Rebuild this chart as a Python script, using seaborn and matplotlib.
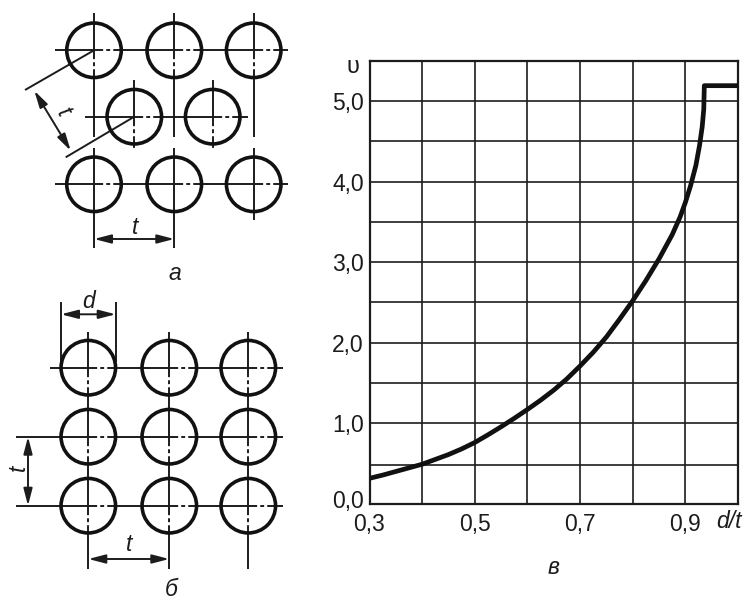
import matplotlib
matplotlib.use('Agg')
import matplotlib.pyplot as plt
from matplotlib.transforms import ScaledTranslation
import pandas as pd
import seaborn as sns

# curve
d_t = [0.30, 0.325, 0.35, 0.375, 0.40, 0.425, 0.45, 0.475, 0.50, 0.525, 0.55, 0.575, 0.60, 0.625, 0.65, 0.675,
       0.70, 0.725, 0.75, 0.775, 0.80, 0.825, 0.85, 0.875, 0.89, 0.90, 0.91, 0.92, 0.927, 0.932, 0.935, 0.936, 1.00]
upsilon = [0.315, 0.355, 0.40, 0.445, 0.49, 0.55, 0.61, 0.68, 0.76, 0.855, 0.955, 1.06, 1.17, 1.285, 1.41, 1.55,
           1.71, 1.88, 2.07, 2.29, 2.52, 2.77, 3.04, 3.34, 3.56, 3.74, 3.95, 4.2, 4.45, 4.68, 4.9, 5.19, 5.19]

x_grid = [0.3, 0.4, 0.5, 0.6, 0.7, 0.8, 0.9, 1.0]
x_labels = ['0,3', '', '0,5', '', '0,7', '', '0,9', '']
y_grid = [0.0, 0.48, 1.0, 1.5, 2.0, 2.5, 3.0, 3.5, 4.0, 4.5, 5.0, 5.5]
y_labels = ['0,0', '', '1,0', '', '2,0', '', '3,0', '', '4,0', '', '5,0', '']

# schemes, positions in picture pixels
holes_x = [94, 174.3, 253.7, 134.3, 212.7, 94, 174.3, 253.7,
           88.3, 169.3, 248.3, 88.3, 169.3, 248.3, 88.3, 169.3, 248.3]
holes_y = [50.3, 50.3, 50.3, 116.7, 116.7, 184.3, 184.3, 184.3,
           367.7, 367.7, 367.7, 436.7, 436.7, 436.7, 505.7, 505.7, 505.7]

solid_lines = [
    # a, horizontal
    (55, 50.3, 94, 50.3), (122, 50.3, 174.3, 50.3), (202, 50.3, 253.7, 50.3), (281, 50.3, 288, 50.3),
    (85, 116.7, 134.3, 116.7), (162, 116.7, 212.7, 116.7), (240, 116.7, 248, 116.7),
    (55, 184.3, 94, 184.3), (122, 184.3, 174.3, 184.3), (202, 184.3, 253.7, 184.3), (281, 184.3, 288, 184.3),
    # a, vertical
    (94, 13.3, 94, 50.3), (94, 79, 94, 137), (174.3, 13.3, 174.3, 50.3), (174.3, 79, 174.3, 137),
    (253.7, 13.3, 253.7, 50.3), (253.7, 79, 253.7, 137),
    (94, 148, 94, 248), (174.3, 148, 174.3, 248), (253.7, 148, 253.7, 220),
    (134.3, 80, 134.3, 116.7), (212.7, 80, 212.7, 116.7),
    # a, dimension lines
    (25, 90, 94, 50.3), (65.7, 157.3, 134.3, 116.7),
    # b, horizontal
    (50, 367.7, 88.3, 367.7), (116, 367.7, 169.3, 367.7), (197, 367.7, 248.3, 367.7), (276, 367.7, 283.3, 367.7),
    (15.7, 436.7, 88.3, 436.7), (116, 436.7, 169.3, 436.7), (197, 436.7, 248.3, 436.7), (276, 436.7, 283.3, 436.7),
    (15.7, 505.7, 88.3, 505.7), (116, 505.7, 169.3, 505.7), (197, 505.7, 248.3, 505.7), (276, 505.7, 283.3, 505.7),
    # b, vertical
    (88.3, 331.7, 88.3, 367.7), (88.3, 395, 88.3, 436.7), (88.3, 464, 88.3, 505.7), (88.3, 533, 88.3, 569),
    (169.3, 331.7, 169.3, 367.7), (169.3, 395, 169.3, 436.7), (169.3, 464, 169.3, 505.7), (169.3, 533, 169.3, 569),
    (248.3, 331.7, 248.3, 367.7), (248.3, 395, 248.3, 436.7), (248.3, 464, 248.3, 505.7), (248.3, 533, 248.3, 569),
    # b, dimension lines
    (61, 302.3, 61, 362), (115.7, 302.3, 115.7, 362),
]
dashed_lines = [
    (94, 50.3, 122, 50.3), (174.3, 50.3, 202, 50.3), (253.7, 50.3, 281, 50.3),
    (134.3, 116.7, 162, 116.7), (212.7, 116.7, 240, 116.7),
    (94, 184.3, 122, 184.3), (174.3, 184.3, 202, 184.3), (253.7, 184.3, 281, 184.3),
    (94, 50.3, 94, 79), (174.3, 50.3, 174.3, 79), (253.7, 50.3, 253.7, 79),
    (134.3, 116.7, 134.3, 150), (212.7, 116.7, 212.7, 150),
    (88.3, 367.7, 116, 367.7), (169.3, 367.7, 197, 367.7), (248.3, 367.7, 276, 367.7),
    (88.3, 436.7, 116, 436.7), (169.3, 436.7, 197, 436.7), (248.3, 436.7, 276, 436.7),
    (88.3, 505.7, 116, 505.7), (169.3, 505.7, 197, 505.7), (248.3, 505.7, 276, 505.7),
    (88.3, 367.7, 88.3, 395), (169.3, 367.7, 169.3, 395), (248.3, 367.7, 248.3, 395),
    (88.3, 436.7, 88.3, 464), (169.3, 436.7, 169.3, 464), (248.3, 436.7, 248.3, 464),
    (88.3, 505.7, 88.3, 533), (169.3, 505.7, 169.3, 533), (248.3, 505.7, 248.3, 533),
]
arrows = [
    (34.3, 90.7, 70.7, 150.7), (94, 239, 174.3, 239),
    (61, 314.3, 115.7, 314.3), (28, 436.7, 28, 505.7), (88.3, 559, 169.3, 559),
]
labels = [
    ('t', 63.3, 113, -60), ('t', 135, 227, 0), ('а', 175, 273, 0),
    ('d', 88.3, 301.7, 0), ('t', 18.3, 467.7, 90), ('t', 129.3, 544.3, 0), ('б', 171.7, 590, 0),
    ('d/t', 729, 521, 0), ('в', 554, 567, 0),
]

sns.set_theme(style='white')
plt.rcParams['font.family'] = ['Liberation Sans', 'DejaVu Sans']
INK = '#1c1c1c'

fig = plt.figure(figsize=(7.46, 6.01), dpi=100)

# graph on the right
ax = fig.add_axes([369.5 / 746, 1 - 503.7 / 601, 368.5 / 746, 443 / 601])
df = pd.DataFrame({'d_t': d_t, 'upsilon': upsilon})
sns.lineplot(data=df, x='d_t', y='upsilon', color='#111111', linewidth=3.4, sort=False, ax=ax, zorder=5)
ax.set_xlim(0.3, 1.0)
ax.set_ylim(0, 5.5)
ax.set_xticks(x_grid)
ax.set_xticklabels(x_labels)
ax.set_yticks(y_grid)
ax.set_yticklabels(y_labels)
ax.set_xlabel('')
ax.set_ylabel('')
ax.grid(True, color=INK, linewidth=1.2)
ax.tick_params(axis='both', labelsize=16.5, labelcolor=INK, length=0)
ax.tick_params(axis='x', pad=7)
ax.tick_params(axis='y', pad=4)
for spine in ax.spines.values():
    spine.set_color(INK)
    spine.set_linewidth(1.6)

# the 0,0 label sits a little higher than its line
zero_label = ax.get_yticklabels()[0]
zero_label.set_transform(zero_label.get_transform() + ScaledTranslation(0, 5 / 100, fig.dpi_scale_trans))

# overlay in pixel coordinates for the schemes and free labels
ov = fig.add_axes([0, 0, 1, 1], zorder=10)
ov.set_xlim(0, 746)
ov.set_ylim(601, 0)
ov.axis('off')
ov.patch.set_alpha(0)

for x0, y0, x1, y1 in solid_lines:
    ov.plot([x0, x1], [y0, y1], color=INK, linewidth=1.4, solid_capstyle='butt')
for x0, y0, x1, y1 in dashed_lines:
    ov.plot([x0, x1], [y0, y1], color=INK, linewidth=1.4, linestyle=(0, (4.7, 1.6, 2.0, 1.6, 6)))

sns.scatterplot(x=holes_x, y=holes_y, s=1540, facecolor='none', edgecolor='#111111',
                linewidth=2.6, ax=ov, zorder=4, legend=False)

for x0, y0, x1, y1 in arrows:
    ov.annotate('', xy=(x1, y1), xytext=(x0, y0),
                arrowprops=dict(arrowstyle='<|-|>,head_length=0.85,head_width=0.22', color=INK,
                                linewidth=1.4, shrinkA=0, shrinkB=0))

for text, x, y, rot in labels:
    ov.text(x, y, text, fontsize=16.5, style='italic', color=INK, rotation=rot,
            ha='center', va='center')
ov.text(353, 67, 'υ', fontsize=17, color=INK, ha='center', va='center')

fig.savefig('out.png', dpi=100)
